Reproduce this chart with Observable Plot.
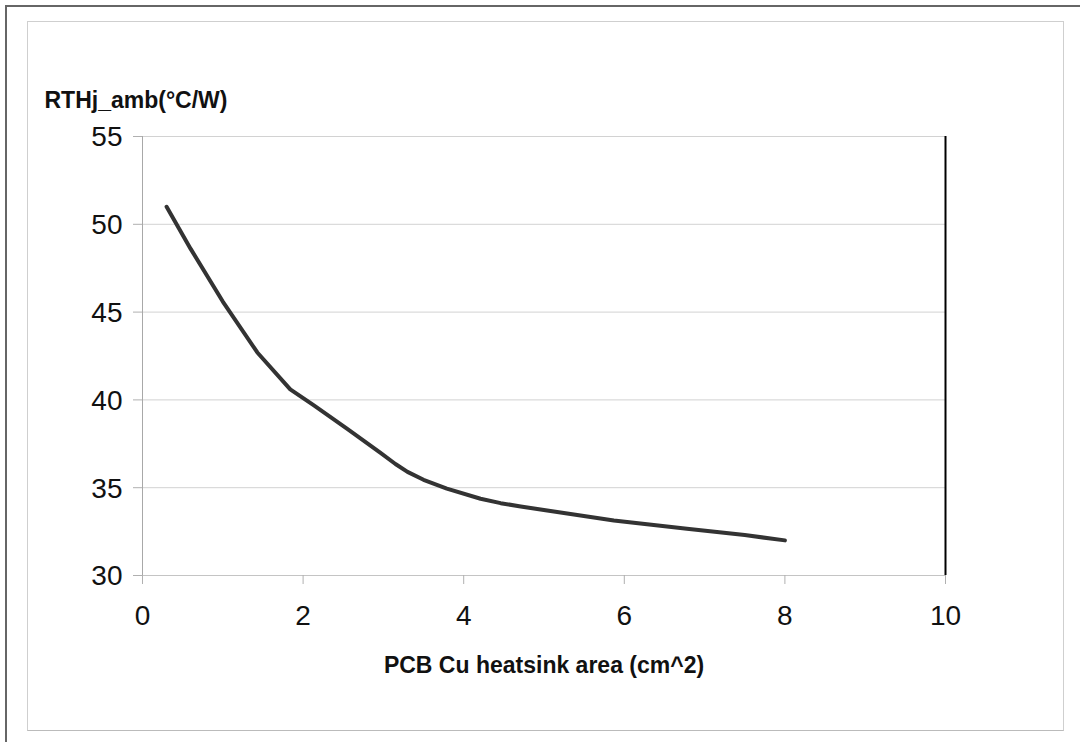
<!DOCTYPE html>
<html>
<head>
<meta charset="utf-8">
<script src="https://cdn.jsdelivr.net/npm/d3@7"></script>
<script src="https://cdn.jsdelivr.net/npm/@observablehq/plot@0.6"></script>
<style>
  html, body { margin: 0; padding: 0; background: #fff; width: 1080px; height: 742px; overflow: hidden; }
  #wrap { position: relative; width: 1080px; height: 742px; }
  #outer { position: absolute; left: 5px; top: 5px; width: 1100px; height: 800px; border-left: 2px solid #666; border-top: 2px solid #666; box-sizing: border-box; }
  #inner { position: absolute; left: 27px; top: 21px; width: 1037px; height: 710px; border: 1px solid #cfcfcf; border-bottom-color: #bbb; box-sizing: border-box; }
  #chart { position: absolute; left: 0; top: 0; }
</style>
</head>
<body>
<div id="wrap">
  <div id="outer"></div>
  <div id="inner"></div>
  <div id="chart"></div>
</div>
<script>
// Data
const area = [0.3, 0.6, 1.0, 1.43, 1.84, 2.13, 2.55, 2.96, 3.15, 3.3, 3.5, 3.79, 4.21, 4.46, 4.71, 5.04, 5.87, 6.78, 7.5, 8.0];
const rth  = [51.0, 48.6, 45.6, 42.7, 40.6, 39.7, 38.35, 37.0, 36.35, 35.9, 35.45, 34.95, 34.37, 34.12, 33.93, 33.7, 33.13, 32.66, 32.3, 32.0];
const xTicks = [0, 2, 4, 6, 8, 10];
const yTicks = [30, 35, 40, 45, 50, 55];
const xLabel = "PCB Cu heatsink area (cm^2)";
const yLabel = "RTHj_amb(°C/W)";

const data = area.map((a, i) => ({area: a, rth: rth[i]}));

const chart = Plot.plot({
  width: 1080,
  height: 742,
  marginLeft: 142,
  marginRight: 135,
  marginTop: 136,
  marginBottom: 167,
  style: {fontFamily: "'Liberation Sans', Arial, Helvetica, sans-serif", fontSize: "25px", color: "#111", background: "transparent"},
  x: {domain: [0, 10]},
  y: {domain: [30, 55]},
  marks: [
    Plot.gridY(yTicks, {stroke: "#d2d2d2", strokeOpacity: 1}),
    Plot.ruleX([0], {stroke: "#a8a8a8"}),
    Plot.ruleY([30], {stroke: "#c4c4c4"}),
    Plot.axisX(xTicks, {tickSize: 9, stroke: "#b0b0b0", tickFormat: () => "", label: null}),
    Plot.axisY(yTicks, {tickSize: 9, stroke: "#b0b0b0", tickFormat: () => "", label: null}),
    Plot.text(xTicks, {x: d => d, frameAnchor: "bottom", lineAnchor: "top", dy: 30, fontSize: 28, fill: "#111"}),
    Plot.text(yTicks, {y: d => d, frameAnchor: "left", textAnchor: "end", dx: -20, dy: 1, fontSize: 28, fill: "#111"}),
    Plot.ruleX([10], {stroke: "#000", strokeWidth: 2}),
    Plot.line(data, {x: "area", y: "rth", stroke: "#333", strokeWidth: 4, strokeLinejoin: "round", strokeLinecap: "round"}),
    Plot.text([yLabel], {frameAnchor: "top-left", textAnchor: "start", dx: -98, dy: -45, fontSize: 23, fontWeight: "bold", fill: "#111"}),
    Plot.text([xLabel], {frameAnchor: "bottom", dy: 97, fontSize: 23, fontWeight: "bold", fill: "#111"})
  ]
});
document.getElementById("chart").appendChild(chart);
</script>
</body>
</html>
